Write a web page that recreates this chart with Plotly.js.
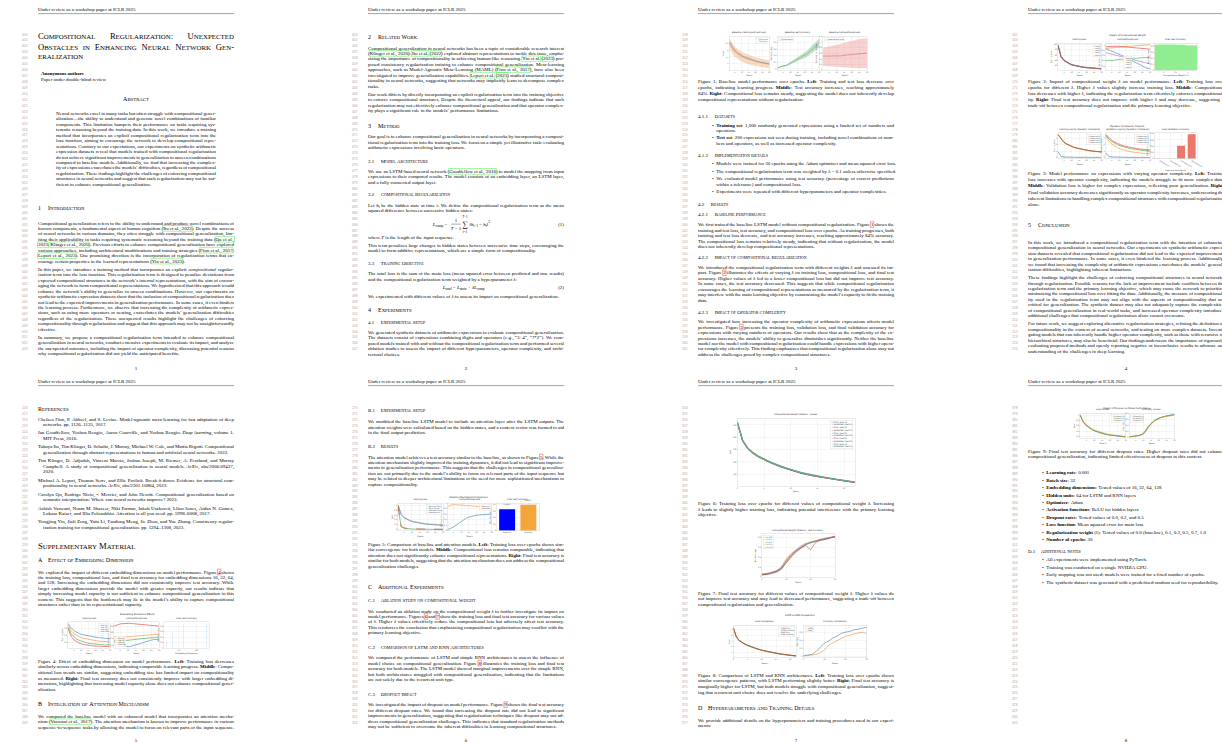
<!DOCTYPE html>
<html><head><meta charset="utf-8">
<script src="https://cdn.plot.ly/plotly-3.0.1.min.js"></script>
<style>html,body{margin:0;padding:0;background:#fff;overflow:hidden}#chart{width:1222px;height:742px}</style>
</head><body><div id="chart"></div>
<script>
// ================= CHART DATA =================
const EPOCHS = [1,3,5,7,9,11,13,15,17,19,21,23,25,27,30];
const EPOCHS_F6 = [0,1,2,3,4,5,6,8,10,12,14,16,18,20,22];
const EPOCHS_F7 = [0,2,4,6,8,10,12,14,16,18,20,22,24,26,28,30];

// Figure 1 (baseline)
const f1TrainLoss = [2.62,2.25,1.98,1.80,1.66,1.55,1.46,1.38,1.31,1.25,1.19,1.14,1.09,1.05,0.99];
const f1TestLoss = [2.55,2.15,1.88,1.70,1.57,1.47,1.39,1.31,1.25,1.19,1.14,1.09,1.05,1.01,0.96];
const f1TestLossLo = [2.25,1.80,1.52,1.35,1.22,1.12,1.04,0.97,0.91,0.86,0.82,0.78,0.74,0.71,0.67];
const f1TestLossHi = [2.85,2.50,2.24,2.05,1.92,1.82,1.74,1.65,1.59,1.52,1.46,1.40,1.36,1.31,1.25];
const f1Acc = [0.03,0.07,0.09,0.10,0.15,0.20,0.24,0.28,0.33,0.38,0.45,0.52,0.60,0.68,0.80];
const f1AccLo = [0.02,0.05,0.07,0.08,0.12,0.16,0.19,0.22,0.26,0.30,0.36,0.42,0.49,0.56,0.66];
const f1AccHi = [0.04,0.09,0.11,0.13,0.18,0.24,0.29,0.34,0.40,0.46,0.54,0.62,0.71,0.80,0.93];
const f1Comp = [0.50,0.50,0.50,0.50,0.50,0.51,0.51,0.53,0.54,0.55,0.57,0.58,0.59,0.60,0.61];
const f1CompLo = [0.15,0.14,0.13,0.12,0.11,0.10,0.09,0.08,0.08,0.07,0.07,0.06,0.06,0.06,0.06];
const f1CompHi = [0.80,0.82,0.84,0.86,0.88,0.92,0.95,0.98,1.02,1.05,1.08,1.10,1.12,1.13,1.14];

// Figure 2 (compositional weight)
const f2Lambdas = ['0.0','0.1','0.3','0.5','1.0'];
const f2LossL00 = [95,52,38,30,25,21,18,16,14,12.5,11.2,10,9,8.2,7.4];
const f2LossL01 = [96,53,39,31,25.5,21.5,18.5,16.3,14.3,12.8,11.5,10.3,9.3,8.4,7.6];
const f2LossL03 = [97,54,40,31.5,26,22,19,16.7,14.7,13.1,11.8,10.6,9.6,8.7,7.9];
const f2LossL05 = [98,55,40.5,32,26.5,22.5,19.4,17,15,13.4,12.1,10.9,9.9,9,8.2];
const f2LossL10 = [99,56,41,32.5,27,23,19.8,17.4,15.4,13.8,12.4,11.2,10.2,9.3,8.5];
const f2CompL00 = [0.86,0.82,0.78,0.73,0.67,0.62,0.57,0.50,0.45,0.38,0.33,0.26,0.21,0.14,0.09];
const f2CompL01 = [0.87,0.88,0.90,0.90,0.92,0.92,0.93,0.95,0.95,0.96,0.97,0.98,0.99,1.00,1.01];
const f2CompL03 = [0.40,0.42,0.41,0.43,0.44,0.46,0.45,0.47,0.48,0.50,0.49,0.51,0.52,0.52,0.53];
const f2CompL05 = [0.93,0.94,0.94,0.95,0.95,0.94,0.93,0.92,0.92,0.90,0.89,0.88,0.87,0.85,0.84];
const f2CompL10 = [0.71,0.68,0.64,0.62,0.58,0.55,0.53,0.49,0.46,0.44,0.40,0.37,0.35,0.31,0.28];
const f2Acc = [0.84,0.84,0.79,0.84,0.81];

// Figure 3 (operator complexity)
const f3Levels = ['Complexity 1','Complexity 2','Complexity 3','Complexity 4'];
const f3TrainC1 = [0.90,0.15,0.08,0.05,0.04,0.03,0.03,0.02,0.02,0.02,0.02,0.01,0.01,0.01,0.01];
const f3TrainC2 = [3.50,2.80,2.30,2.00,1.78,1.60,1.46,1.34,1.24,1.15,1.07,1.00,0.94,0.89,0.84];
const f3TrainC3 = [3.55,2.85,2.35,2.05,1.80,1.62,1.48,1.36,1.25,1.16,1.08,1.01,0.95,0.90,0.85];
const f3TrainC4 = [3.60,2.90,2.40,2.10,1.85,1.65,1.50,1.38,1.27,1.18,1.10,1.03,0.97,0.92,0.87];
const f3ValC1 = [0.80,0.20,0.10,0.07,0.05,0.04,0.04,0.03,0.03,0.03,0.02,0.02,0.02,0.02,0.02];
const f3ValC2 = [3.40,2.60,2.10,1.75,1.50,1.30,1.15,1.02,0.92,0.83,0.76,0.70,0.65,0.61,0.57];
const f3ValC3 = [3.50,2.90,2.50,2.20,1.96,1.78,1.63,1.50,1.40,1.31,1.23,1.16,1.10,1.05,1.00];
const f3ValC4 = [3.60,3.10,2.70,2.40,2.15,1.95,1.80,1.68,1.57,1.48,1.40,1.33,1.27,1.22,1.17];
const f3Acc = [0.0005,0.001,0.041,0.078];

// Figure 4 (embedding dimension)
const f4Dims = ['16','32','64','128'];
const f4LossD16 = [0.95,0.82,0.74,0.69,0.65,0.62,0.60,0.58,0.56,0.55,0.54,0.53,0.52,0.51,0.50];
const f4LossD32 = [0.90,0.74,0.65,0.59,0.55,0.52,0.50,0.48,0.46,0.45,0.44,0.43,0.42,0.41,0.41];
const f4LossD64 = [0.85,0.66,0.56,0.49,0.45,0.42,0.39,0.37,0.36,0.35,0.34,0.33,0.33,0.32,0.32];
const f4LossD128 = [0.80,0.58,0.47,0.41,0.37,0.34,0.32,0.31,0.30,0.29,0.29,0.28,0.28,0.28,0.27];
const f4CompD16 = [0.30,0.26,0.22,0.18,0.15,0.14,0.17,0.21,0.25,0.28,0.31,0.33,0.35,0.37,0.38];
const f4CompD32 = [0.45,0.44,0.44,0.45,0.46,0.47,0.48,0.49,0.50,0.51,0.52,0.52,0.53,0.53,0.54];
const f4CompD64 = [0.35,0.33,0.32,0.33,0.34,0.36,0.38,0.39,0.40,0.41,0.42,0.43,0.43,0.44,0.44];
const f4CompD128 = [0.80,0.84,0.87,0.88,0.89,0.89,0.88,0.87,0.86,0.85,0.84,0.83,0.82,0.81,0.80];
const f4Acc = [0.19,0.55,0.86,0.90];

// Figure 5 (attention)
const f5Models = ['Baseline','Attention'];
const f5BaseTrain = [1.00,0.62,0.48,0.40,0.35,0.31,0.28,0.26,0.24,0.22,0.21,0.20,0.19,0.18,0.17];
const f5BaseVal = [1.02,0.64,0.50,0.42,0.37,0.33,0.30,0.28,0.26,0.24,0.23,0.22,0.21,0.20,0.19];
const f5AttnTrain = [0.95,0.12,0.05,0.03,0.02,0.02,0.02,0.01,0.01,0.01,0.01,0.01,0.01,0.01,0.01];
const f5AttnVal = [0.97,0.15,0.07,0.04,0.03,0.03,0.02,0.02,0.02,0.02,0.02,0.02,0.01,0.01,0.01];
const f5BaseComp = [0.86,0.93,0.95,0.95,0.94,0.93,0.92,0.91,0.90,0.89,0.88,0.88,0.87,0.86,0.85];
const f5AttnComp = [0.04,0.07,0.13,0.21,0.30,0.38,0.44,0.49,0.53,0.55,0.57,0.58,0.58,0.59,0.60];
const f5Acc = [0.66,0.80];

// Figure 6 (ablation losses)
const f6TrainL00 = [518,366,302,265,238,216,196,160,130,106,87,71,57,45,32];
const f6ValL00 = [522,372,307,270,242,219,199,163,133,109,89,73,59,47,34];
const f6TrainL01 = [519,368,304,266,239,217,197,161,131,107,88,72,58,46,33];
const f6ValL01 = [523,374,309,271,243,221,200,165,134,110,90,74,60,48,35];
const f6TrainL03 = [520,369,305,268,241,219,198,162,133,108,89,73,58,46,34];
const f6ValL03 = [524,375,310,273,245,222,202,166,136,111,91,75,61,49,36];
const f6TrainL05 = [521,371,306,269,242,220,200,164,134,110,90,74,60,47,35];
const f6ValL05 = [525,377,312,274,246,224,203,168,137,113,94,76,62,50,37];
const f6TrainL10 = [522,373,308,271,244,222,202,166,136,112,92,75,61,49,36];
const f6ValL10 = [526,379,314,276,248,226,205,170,139,115,95,78,63,51,38];

// Figure 7 (ablation test accuracy)
const f7L00 = [0.04,0.05,0.08,0.10,0.17,0.33,0.45,0.54,0.60,0.66,0.71,0.73,0.76,0.78,0.80,0.82];
const f7L01 = [0.05,0.06,0.07,0.12,0.20,0.36,0.47,0.55,0.63,0.68,0.70,0.74,0.75,0.79,0.81,0.83];
const f7L03 = [0.03,0.05,0.09,0.11,0.16,0.30,0.42,0.52,0.59,0.65,0.69,0.72,0.77,0.77,0.80,0.81];
const f7L05 = [0.04,0.04,0.06,0.09,0.15,0.28,0.40,0.50,0.58,0.64,0.55,0.70,0.74,0.76,0.79,0.82];
const f7L10 = [0.05,0.06,0.08,0.12,0.18,0.31,0.43,0.53,0.61,0.67,0.70,0.73,0.75,0.77,0.80,0.82];

// Figure 8 (LSTM vs RNN)
const f8LstmTrain = [5.2,3.70,3.02,2.66,2.40,2.18,1.98,1.63,1.33,1.09,0.89,0.73,0.59,0.47,0.35];
const f8LstmVal = [5.3,3.78,3.08,2.71,2.44,2.22,2.02,1.66,1.36,1.12,0.92,0.75,0.61,0.49,0.37];
const f8RnnTrain = [5.25,3.75,3.06,2.69,2.43,2.21,2.01,1.66,1.36,1.12,0.92,0.76,0.62,0.50,0.38];
const f8RnnVal = [5.35,3.83,3.12,2.75,2.48,2.26,2.05,1.70,1.39,1.15,0.95,0.78,0.64,0.52,0.40];
const f8LstmAcc = [0.02,0.03,0.05,0.12,0.22,0.33,0.38,0.46,0.50,0.57,0.60,0.62,0.66,0.67,0.70,0.72];
const f8RnnAcc = [0.01,0.02,0.03,0.05,0.09,0.16,0.28,0.33,0.40,0.45,0.50,0.52,0.56,0.58,0.60,0.57];

// Figure 9 (dropout)
const f9LossD0 = [1.00,0.74,0.60,0.51,0.44,0.39,0.35,0.31,0.28,0.26,0.24,0.22,0.21,0.20,0.18];
const f9LossD2 = [1.01,0.76,0.62,0.52,0.45,0.40,0.36,0.32,0.29,0.27,0.25,0.23,0.22,0.21,0.19];
const f9LossD5 = [1.02,0.78,0.64,0.54,0.47,0.42,0.38,0.34,0.31,0.28,0.26,0.24,0.23,0.22,0.20];
const f9AccD0 = [0.02,0.03,0.04,0.06,0.09,0.17,0.33,0.46,0.55,0.61,0.66,0.69,0.71,0.73,0.75];
const f9AccD2 = [0.02,0.03,0.05,0.06,0.10,0.19,0.35,0.47,0.56,0.62,0.66,0.70,0.72,0.74,0.76];
const f9AccD5 = [0.01,0.02,0.04,0.05,0.08,0.15,0.30,0.44,0.53,0.60,0.65,0.68,0.70,0.72,0.74];

// ================= TEXT CONTENT =================
const HEADER_TEXT = "Under review as a workshop paper at ICLR 2025";
const TITLE = ["Compositional Regularization: Unexpected","Obstacles in Enhancing Neural Network Gen-","eralization"];
const ABSTRACT = [
"Neural networks excel in many tasks but often struggle with compositional gener-",
"alization—the ability to understand and generate novel combinations of familiar",
"components. This limitation hampers their performance on tasks requiring sys-",
"tematic reasoning beyond the training data. In this work, we introduce a training",
"method that incorporates an explicit compositional regularization term into the",
"loss function, aiming to encourage the network to develop compositional repre-",
"sentations. Contrary to our expectations, our experiments on synthetic arithmetic",
"expression datasets reveal that models trained with compositional regularization",
"do not achieve significant improvements in generalization to unseen combinations",
"compared to baseline models. Additionally, we find that increasing the complex-",
"ity of expressions exacerbates the models’ difficulties, regardless of compositional",
"regularization. These findings highlight the challenges of enforcing compositional",
"structures in neural networks and suggest that such regularization may not be suf-",
"ficient to enhance compositional generalization."];
const INTRO_1 = [
"Compositional generalization refers to the ability to understand and produce novel combinations of",
"known components, a fundamental aspect of human cognition ([[Ito et al., 2022]]). Despite the success",
"of neural networks in various domains, they often struggle with compositional generalization, lim-",
"iting their applicability in tasks requiring systematic reasoning beyond the training data ([[Qu et al.,]]",
"[[2023]]; [[Klinger et al., 2020]]). Previous efforts to enhance compositional generalization have explored",
"various approaches, including architectural modifications and training strategies ([[Finn et al., 2017]];",
"[[Lepori et al., 2023]]). One promising direction is the incorporation of regularization terms that en-",
"courage certain properties in the learned representations ([[Yin et al., 2023]])."];
const INTRO_2 = [
"In this paper, we introduce a training method that incorporates an explicit <i>compositional regular-</i>",
"<i>ization</i> term into the loss function. This regularization term is designed to penalize deviations from",
"expected compositional structures in the network’s internal representations, with the aim of encour-",
"aging the network to form compositional representations. We hypothesized that this approach would",
"enhance the network’s ability to generalize to unseen combinations. However, our experiments on",
"synthetic arithmetic expression datasets show that the inclusion of compositional regularization does",
"not lead to the expected improvements in generalization performance. In some cases, it even hinders",
"the learning process. Furthermore, we observe that increasing the complexity of arithmetic expres-",
"sions, such as using more operators or nesting, exacerbates the models’ generalization difficulties",
"regardless of the regularization. These unexpected results highlight the challenges of enforcing",
"compositionality through regularization and suggest that this approach may not be straightforwardly",
"effective."];
const INTRO_3 = [
"In summary, we propose a compositional regularization term intended to enhance compositional",
"generalization in neural networks, conduct extensive experiments to evaluate its impact, and analyze",
"the unexpected outcomes, including the impact of operator complexity, discussing potential reasons",
"why compositional regularization did not yield the anticipated benefits."];
const RW_1 = [
"Compositional generalization in neural networks has been a topic of considerable research interest",
"([[Klinger et al., 2020]]). [[Ito et al.]] ([[2022]]) explored abstract representations to tackle this issue, empha-",
"sizing the importance of compositionality in achieving human-like reasoning. [[Yin et al.]] ([[2023]]) pro-",
"posed consistency regularization training to enhance compositional generalization. Meta-learning",
"approaches, such as Model-Agnostic Meta-Learning (MAML) ([[Finn et al., 2017]]), have also been",
"investigated to improve generalization capabilities. [[Lepori et al.]] ([[2023]]) studied structural composi-",
"tionality in neural networks, suggesting that networks may implicitly learn to decompose complex",
"tasks."];
const RW_2 = [
"Our work differs by directly incorporating an explicit regularization term into the training objective",
"to enforce compositional structures. Despite the theoretical appeal, our findings indicate that such",
"regularization may not effectively enhance compositional generalization and that operator complex-",
"ity plays a significant role in the models’ performance limitations."];
const METHOD_1 = [
"Our goal is to enhance compositional generalization in neural networks by incorporating a composi-",
"tional regularization term into the training loss. We focus on a simple yet illustrative task: evaluating",
"arithmetic expressions involving basic operators."];
const ARCH_1 = [
"We use an LSTM-based neural network ([[Goodfellow et al., 2016]]) to model the mapping from input",
"expressions to their computed results. The model consists of an embedding layer, an LSTM layer,",
"and a fully connected output layer."];
const CREG_1 = [
"Let <i>h<sub>t</sub></i> be the hidden state at time <i>t</i>. We define the compositional regularization term as the mean",
"squared difference between successive hidden states:"];
const CREG_WHERE = ["where <i>T</i> is the length of the input sequence."];
const CREG_2 = [
"This term penalizes large changes in hidden states between successive time steps, encouraging the",
"model to form additive representations, which are a simple form of compositionality."];
const OBJ_1 = [
"The total loss is the sum of the main loss (mean squared error between predicted and true results)",
"and the compositional regularization term weighted by a hyperparameter <i>λ</i>:"];
const OBJ_2 = ["We experimented with different values of <i>λ</i> to assess its impact on compositional generalization."];
const SETUP_1 = [
"We generated synthetic datasets of arithmetic expressions to evaluate compositional generalization.",
"The datasets consist of expressions combining digits and operators (e.g., “3+4”, “7*2”). We com-",
"pared models trained with and without the compositional regularization term and performed several",
"ablation studies to assess the impact of different hyperparameters, operator complexity, and archi-",
"tectural choices."];
const CAP_1 = [
"Figure 1: Baseline model performance over epochs. <b>Left</b>: Training and test loss decrease over",
"epochs, indicating learning progress. <b>Middle</b>: Test accuracy increases, reaching approximately",
"84%. <b>Right</b>: Compositional loss remains steady, suggesting the model does not inherently develop",
"compositional representations without regularization."];
const DATASET_ITEMS = [
["<b>Training set</b>: 1,000 randomly generated expressions using a limited set of numbers and","operators."],
["<b>Test set</b>: 200 expressions not seen during training, including novel combinations of num-","bers and operators, as well as increased operator complexity."]];
const IMPL_ITEMS = [
["Models were trained for 30 epochs using the Adam optimizer and mean squared error loss."],
["The compositional regularization term was weighted by <i>λ</i> = 0.1 unless otherwise specified."],
["We evaluated model performance using test accuracy (percentage of correct predictions","within a tolerance) and compositional loss."],
["Experiments were repeated with different hyperparameters and operator complexities."]];
const RES_BASE = [
"We first trained the baseline LSTM model without compositional regularization. Figure {{1}} shows the",
"training and test loss, test accuracy, and compositional loss over epochs. As training progresses, both",
"training and test loss decrease, and test accuracy increases, reaching approximately 84% accuracy.",
"The compositional loss remains relatively steady, indicating that without regularization, the model",
"does not inherently develop compositional representations."];
const RES_REG = [
"We introduced the compositional regularization term with different weights <i>λ</i> and assessed its im-",
"pact. Figure {{2}} illustrates the effects of varying <i>λ</i> on training loss, compositional loss, and final test",
"accuracy. Higher values of <i>λ</i> led to a lower compositional loss but did not improve test accuracy.",
"In some cases, the test accuracy decreased. This suggests that while compositional regularization",
"encourages the learning of compositional representations as measured by the regularization term, it",
"may interfere with the main learning objective by constraining the model’s capacity to fit the training",
"data."];
const RES_OP = [
"We investigated how increasing the operator complexity of arithmetic expressions affects model",
"performance. Figure {{3}} presents the training loss, validation loss, and final validation accuracy for",
"expressions with varying numbers of operators. Our results show that as the complexity of the ex-",
"pressions increases, the models’ ability to generalize diminishes significantly. Neither the baseline",
"model nor the model with compositional regularization could handle expressions with higher opera-",
"tor complexity effectively. This finding emphasizes that compositional regularization alone may not",
"address the challenges posed by complex compositional structures."];
const CAP_2 = [
"Figure 2: Impact of compositional weight <i>λ</i> on model performance. <b>Left</b>: Training loss over",
"epochs for different <i>λ</i>. Higher <i>λ</i> values slightly increase training loss. <b>Middle</b>: Compositional",
"loss decreases with higher <i>λ</i>, indicating the regularization term effectively enforces compositional-",
"ity. <b>Right</b>: Final test accuracy does not improve with higher <i>λ</i> and may decrease, suggesting a",
"trade-off between compositional regularization and the primary learning objective."];
const CAP_3 = [
"Figure 3: Model performance on expressions with varying operator complexity. <b>Left</b>: Training",
"loss increases with operator complexity, indicating the models struggle to fit more complex data.",
"<b>Middle</b>: Validation loss is higher for complex expressions, reflecting poor generalization. <b>Right</b>:",
"Final validation accuracy decreases significantly as operator complexity increases, underscoring the",
"inherent limitations in handling complex compositional structures with compositional regularization",
"alone."];
const CONC_1 = [
"In this work, we introduced a compositional regularization term with the intention of enhancing",
"compositional generalization in neural networks. Our experiments on synthetic arithmetic expres-",
"sion datasets revealed that compositional regularization did not lead to the expected improvements",
"in generalization performance. In some cases, it even hindered the learning process. Additionally,",
"we found that increasing the complexity of arithmetic expressions exacerbates the models’ general-",
"ization difficulties, highlighting inherent limitations."];
const CONC_2 = [
"These findings highlight the challenges of enforcing compositional structures in neural networks",
"through regularization. Possible reasons for the lack of improvement include conflicts between the",
"regularization term and the primary learning objective, which may cause the network to prioritize",
"minimizing the compositional loss over fitting the data. Additionally, the measure of compositional-",
"ity used in the regularization term may not align with the aspects of compositionality that are",
"critical for generalization. The synthetic dataset may also not adequately capture the complexities",
"of compositional generalization in real-world tasks, and increased operator complexity introduces",
"additional challenges that compositional regularization alone cannot overcome."];
const CONC_3 = [
"For future work, we suggest exploring alternative regularization strategies, refining the definition of",
"compositionality in the context of neural networks, and testing on more complex datasets. Investi-",
"gating models that can inherently handle higher operator complexity, such as those with recursive or",
"hierarchical structures, may also be beneficial. Our findings underscore the importance of rigorously",
"evaluating proposed methods and openly reporting negative or inconclusive results to advance our",
"understanding of the challenges in deep learning."];
const REFS = [
["Chelsea Finn, P. Abbeel, and S. Levine. Model-agnostic meta-learning for fast adaptation of deep","networks. pp. 1126–1135, 2017."],
["Ian Goodfellow, Yoshua Bengio, Aaron Courville, and Yoshua Bengio. <i>Deep learning</i>, volume 1.","MIT Press, 2016."],
["Takuya Ito, Tim Klinger, D. Schultz, J. Murray, Michael W. Cole, and Mattia Rigotti. Compositional","generalization through abstract representations in human and artificial neural networks. 2022."],
["Tim Klinger, D. Adjodah, Vincent Marois, Joshua Joseph, M. Riemer, A. Pentland, and Murray","Campbell. A study of compositional generalization in neural models. <i>ArXiv</i>, abs/2006.09437,","2020."],
["Michael A. Lepori, Thomas Serre, and Ellie Pavlick. Break it down: Evidence for structural com-","positionality in neural networks. <i>ArXiv</i>, abs/2301.10884, 2023."],
["Carolyn Qu, Rodrigo Nieto, •. Mercier, and John Hewitt. Compositional generalization based on","semantic interpretation: Where can neural networks improve? 2023."],
["Ashish Vaswani, Noam M. Shazeer, Niki Parmar, Jakob Uszkoreit, Llion Jones, Aidan N. Gomez,","Lukasz Kaiser, and Illia Polosukhin. Attention is all you need. pp. 5998–6008, 2017."],
["Yongjing Yin, Jiali Zeng, Yafu Li, Fandong Meng, Jie Zhou, and Yue Zhang. Consistency regular-","ization training for compositional generalization. pp. 1294–1308, 2023."]];
const SUPP_A = [
"We explored the impact of different embedding dimensions on model performance. Figure {{4}} shows",
"the training loss, compositional loss, and final test accuracy for embedding dimensions 16, 32, 64,",
"and 128. Increasing the embedding dimension did not consistently improve test accuracy. While",
"larger embedding dimensions provide the model with greater capacity, our results indicate that",
"simply increasing model capacity is not sufficient to enhance compositional generalization in this",
"context. This suggests that the bottleneck may lie in the model’s ability to capture compositional",
"structures rather than in its representational capacity."];
const CAP_4 = [
"Figure 4: Effect of embedding dimension on model performance. <b>Left</b>: Training loss decreases",
"similarly across embedding dimensions, indicating comparable learning progress. <b>Middle</b>: Compo-",
"sitional loss trends are similar, suggesting embedding size has limited impact on compositionality",
"as measured. <b>Right</b>: Final test accuracy does not consistently improve with larger embedding di-",
"mensions, highlighting that increasing model capacity alone does not enhance compositional gener-",
"alization."];
const SUPP_B = [
"We compared the baseline model with an enhanced model that incorporates an attention mecha-",
"nism ([[Vaswani et al., 2017]]). The attention mechanism is known to improve performance in various",
"sequence-to-sequence tasks by allowing the model to focus on relevant parts of the input sequence."];
const SUPP_B1 = [
"We modified the baseline LSTM model to include an attention layer after the LSTM outputs. The",
"attention weights were calculated based on the hidden states, and a context vector was formed to aid",
"in the final output prediction."];
const SUPP_B2 = [
"The attention model achieves a test accuracy similar to the baseline, as shown in Figure {{5}}. While the",
"attention mechanism slightly improved the training dynamics, it did not lead to significant improve-",
"ments in generalization performance. This suggests that the challenges in compositional generaliza-",
"tion are not primarily due to the model’s ability to focus on relevant parts of the input sequence but",
"may be related to deeper architectural limitations or the need for more sophisticated mechanisms to",
"capture compositionality."];
const CAP_5 = [
"Figure 5: Comparison of baseline and attention models. <b>Left</b>: Training loss over epochs shows sim-",
"ilar convergence for both models. <b>Middle</b>: Compositional loss remains comparable, indicating that",
"attention does not significantly enhance compositional representations. <b>Right</b>: Final test accuracy is",
"similar for both models, suggesting that the attention mechanism does not address the compositional",
"generalization challenges."];
const SUPP_C1 = [
"We conducted an ablation study on the compositional weight <i>λ</i> to further investigate its impact on",
"model performance. Figures {{6}} and {{7}} show the training loss and final test accuracy for various values",
"of <i>λ</i>. Higher <i>λ</i> values effectively reduce the compositional loss but adversely affect test accuracy.",
"This reinforces the conclusion that emphasizing compositional regularization may conflict with the",
"primary learning objective."];
const SUPP_C2 = [
"We compared the performance of LSTM and simple RNN architectures to assess the influence of",
"model choice on compositional generalization. Figure {{8}} illustrates the training loss and final test",
"accuracy for both models. The LSTM model showed marginal improvements over the simple RNN,",
"but both architectures struggled with compositional generalization, indicating that the limitations",
"are not solely due to the recurrent unit type."];
const SUPP_C3 = [
"We investigated the impact of dropout on model performance. Figure {{9}} shows the final test accuracy",
"for different dropout rates. We found that increasing the dropout rate did not lead to significant",
"improvements in generalization, suggesting that regularization techniques like dropout may not ad-",
"dress compositional generalization challenges. This indicates that standard regularization methods",
"may not be sufficient to overcome the inherent difficulties in learning compositional structures."];
const CAP_6 = [
"Figure 6: Training loss over epochs for different values of compositional weight <i>λ</i>. Increasing",
"<i>λ</i> leads to slightly higher training loss, indicating potential interference with the primary learning",
"objective."];
const CAP_7 = [
"Figure 7: Final test accuracy for different values of compositional weight <i>λ</i>. Higher <i>λ</i> values do",
"not improve test accuracy and may lead to decreased performance, suggesting a trade-off between",
"compositional regularization and generalization."];
const CAP_8 = [
"Figure 8: Comparison of LSTM and RNN architectures. <b>Left</b>: Training loss over epochs shows",
"similar convergence patterns, with LSTM performing slightly better. <b>Right</b>: Final test accuracy is",
"marginally higher for LSTM, but both models struggle with compositional generalization, suggest-",
"ing that recurrent unit choice does not resolve the underlying challenges."];
const SUPP_D = [
"We provide additional details on the hyperparameters and training procedures used in our experi-",
"ments:"];
const CAP_9 = [
"Figure 9: Final test accuracy for different dropout rates. Higher dropout rates did not enhance",
"compositional generalization, indicating limited effectiveness of dropout in this context."];
const HYPER_ITEMS = [
["<b>Learning rate</b>: 0.001"],["<b>Batch size</b>: 32"],
["<b>Embedding dimensions</b>: Tested values of 16, 32, 64, 128"],
["<b>Hidden units</b>: 64 for LSTM and RNN layers"],["<b>Optimizer</b>: Adam"],
["<b>Activation functions</b>: ReLU for hidden layers"],
["<b>Dropout rates</b>: Tested values of 0.0, 0.2, and 0.5"],
["<b>Loss function</b>: Mean squared error for main loss"],
["<b>Regularization weight</b> (<i>λ</i>): Tested values of 0.0 (baseline), 0.1, 0.3, 0.5, 0.7, 1.0"],
["<b>Number of epochs</b>: 30"]];
const NOTE_ITEMS = [
["All experiments were implemented using PyTorch."],
["Training was conducted on a single NVIDIA GPU."],
["Early stopping was not used; models were trained for a fixed number of epochs."],
["The synthetic dataset was generated with a predefined random seed for reproducibility."]];

// ================= ENGINE =================
const W=1222,H=742;
const SERIF='"Liberation Serif", "Times New Roman", serif';
const SANS='"DejaVu Sans", "Liberation Sans", sans-serif';
const FS=4.97, LS=5.45, PGAP=8.15, TW=196, CAP_TOP=6.1, CAP_BOT=5.55;
const pageLeft=p=>38+330*(p%4);
const pageRow=p=>Math.floor(p/4);
const cvs=document.createElement('canvas'); const ctx=cvs.getContext('2d');
function mw(s,sz,b,it){ctx.font=(it?'italic ':'')+(b?'bold ':'')+sz+'px "Liberation Serif"';return ctx.measureText(s).width;}
const TX=[],TY=[],TT=[],TS=[], CX=[],CY=[],CT=[],CS=[], RX=[],RY=[],RT=[],RS=[], NX=[],NY=[],NT=[];
const shapes=[],annotations=[],traces=[];
function pushT(x,y,t,s){TX.push(x);TY.push(y);TT.push(t);TS.push(s);}
function pushC(x,y,t,s){CX.push(x);CY.push(y);CT.push(t);CS.push(s);}
function pushR(x,y,t,s){RX.push(x);RY.push(y);RT.push(t);RS.push(s);}

function parseLine(s){
  const out=[];let b=0,it=0,sub=0,sup=0,cite=0,cid=0,k=0;
  const tags=[['<b>',()=>b=1],['</b>',()=>b=0],['<i>',()=>it=1],['</i>',()=>it=0],['<sub>',()=>sub=1],['</sub>',()=>sub=0],['<sup>',()=>sup=1],['</sup>',()=>sup=0],['[[',()=>{cid++;cite={id:cid,c:'g'};}],[']]',()=>cite=0],['{{',()=>{cid++;cite={id:cid,c:'r'};}],['}}',()=>cite=0]];
  while(k<s.length){
    let hit=false;
    for(const [tg,fn] of tags){ if(s.startsWith(tg,k)){fn();k+=tg.length;hit=true;break;} }
    if(hit) continue;
    out.push({ch:s[k],b,it,sub,sup,cite});k++;
  }
  return out;
}
function placeLine(line,x,y,sz,tw){
  const chars=parseLine(line);
  const words=[];let cur=[];
  for(const c of chars){ if(c.ch===' '){ if(cur.length){words.push(cur);cur=[];} } else cur.push(c); }
  if(cur.length) words.push(cur);
  const built=words.map(w=>{
    const runs=[];
    for(const c of w){const key=c.b+'|'+c.it+'|'+c.sub+'|'+c.sup+'|'+(c.cite?c.cite.id:0);const last=runs[runs.length-1];
      if(last&&last.key===key) last.s+=c.ch; else runs.push({key,s:c.ch,b:c.b,it:c.it,sub:c.sub,sup:c.sup,cite:c.cite});}
    let html='',width=0;const segs=[];
    for(const r of runs){let h=r.s; if(r.sub)h='<sub>'+h+'</sub>'; if(r.sup)h='<sup>'+h+'</sup>'; if(r.it)h='<i>'+h+'</i>'; if(r.b)h='<b>'+h+'</b>'; html+=h;
      const w=mw(r.s,sz*((r.sub||r.sup)?0.7:1),r.b,r.it); if(r.cite) segs.push({cite:r.cite,x0:width,x1:width+w}); width+=w;}
    return {html,width,segs};
  });
  const sp=mw(' ',sz,0,0); const sum=built.reduce((a,b)=>a+b.width,0);
  let gap=sp;
  if(tw&&built.length>1){gap=(tw-sum)/(built.length-1); gap=Math.max(sp*0.6,Math.min(gap,sp*3));}
  let cx=x;const boxes={};
  built.forEach(b=>{pushT(cx,y,b.html,sz);
    b.segs.forEach(s=>{const id=s.cite.id; if(!boxes[id]) boxes[id]={c:s.cite.c,x0:cx+s.x0,x1:cx+s.x1}; else boxes[id].x1=cx+s.x1;});
    cx+=b.width+gap;});
  Object.values(boxes).forEach(bx=>shapes.push({type:'rect',xref:'x',yref:'y',x0:bx.x0-0.5,x1:bx.x1+0.5,y0:y-3.2,y1:y+2.5,
    line:{color:bx.c==='g'?'rgba(40,230,40,0.75)':'rgba(255,40,40,0.85)',width:0.55},fillcolor:'rgba(0,0,0,0)'}));
}
function scWord(w,big,small){
  let html='',width=0,i=0;
  const isLow=ch=>ch!==ch.toUpperCase();
  while(i<w.length){
    let s='';
    if(isLow(w[i])){ while(i<w.length&&isLow(w[i])){s+=w[i];i++;} const S=s.toUpperCase(); html+='<span style="font-size:'+small+'px">'+S+'</span>'; width+=mw(S,small,0,0); }
    else { while(i<w.length&&!isLow(w[i])){s+=w[i];i++;} html+=s; width+=mw(s,big,0,0); }
  }
  return {html,width};
}
function placeSC(text,x,y,big,small,tw,center){
  const ws=text.split(' ').map(w=>scWord(w,big,small));
  const sp=mw(' ',big,0,0); const sum=ws.reduce((a,b)=>a+b.width,0);
  let gap=sp; if(tw&&ws.length>1) gap=Math.max(sp*0.6,(tw-sum)/(ws.length-1));
  let cx=x; if(center) cx=x-(sum+gap*(ws.length-1))/2;
  ws.forEach(w=>{pushT(cx,y,w.html,big);cx+=w.width+gap;});
}
let FY=0;
function para(p,y,lines,opt){opt=opt||{};const L=pageLeft(p)+(opt.dx||0),w=opt.w||TW,ls=opt.ls||LS;
  if(y==null) y=FY+PGAP;
  lines.forEach((ln,i)=>placeLine(ln,L,y+i*ls,FS,(i<lines.length-1)?w:null));
  FY=y+(lines.length-1)*ls;}
function heading(p,y,num,title,lvl){const L=pageLeft(p);const big=lvl===1?5.97:4.97,small=lvl===1?4.78:3.98;
  const off=lvl===1?10:(lvl===2?12.7:16.7);
  if(num) pushT(L,y,num,big);
  placeSC(title,L+(num?off:0),y,big,small);}
function bullets(p,y,items){const L=pageLeft(p);
  items.forEach(it=>{pushT(L+14,y,'•',FS); it.forEach((ln,i)=>placeLine(ln,L+18.3,y+i*LS,FS,i<it.length-1?TW-18.3:null)); y+=(it.length-1)*LS+7.45;});}
function refs(p,y,items){const L=pageLeft(p);
  items.forEach(it=>{it.forEach((ln,i)=>placeLine(ln,i?L+5:L,y+i*5.6,FS,i<it.length-1?(i?TW-5:TW):null)); y+=(it.length-1)*5.6+8.3;});}
function pageFrame(p){const L=pageLeft(p),r=pageRow(p);
  pushT(L,10+372*r,HEADER_TEXT,FS);
  shapes.push({type:'line',xref:'x',yref:'y',x0:L,x1:L+TW,y0:13.6+372*r,y1:13.6+372*r,line:{color:'#333',width:0.45}});
  pushC(L+98,368.7+372*r,String(p+1),FS);
  for(let k=0;k<54;k++){NX.push(L-10.5);NY.push(34.7+373.8*r+k*5.94);NT.push(String(p*54+k).padStart(3,'0'));}}

// ---------- figure helpers ----------
const layout={width:W,height:H,margin:{l:0,r:0,t:0,b:0,pad:0},paper_bgcolor:'#ffffff',plot_bgcolor:'#ffffff',showlegend:false,hovermode:false,
  font:{family:SERIF,color:'#000'},
  xaxis:{range:[0,W],visible:false,fixedrange:true,domain:[0,1]},
  yaxis:{range:[H,0],visible:false,fixedrange:true,domain:[0,1]},
  shapes:shapes,annotations:annotations};
let axN=1;
function axes(x0,x1,y0,y1,xo,yo){axN++;const n=axN;
  const base={showgrid:true,gridcolor:'#e4e4e4',gridwidth:0.35,zeroline:false,showline:true,mirror:true,linecolor:'#c4c4c4',linewidth:0.35,ticks:'',
    tickfont:{size:1.9,color:'#555',family:SANS},fixedrange:true,nticks:6,automargin:false};
  layout['xaxis'+n]=Object.assign({},base,{domain:[x0/W,x1/W],anchor:'y'+n},xo||{});
  layout['yaxis'+n]=Object.assign({},base,{domain:[1-y1/H,1-y0/H],anchor:'x'+n},yo||{});
  return n;}
const axT=t=>({title:{text:t,font:{size:2,family:SANS,color:'#333'},standoff:1}});
function ln(n,x,y,color,w,dash){traces.push({type:'scatter',mode:'lines',x:x,y:y,xaxis:'x'+n,yaxis:'y'+n,line:{color:color,width:w||0.55,dash:dash||'solid'},hoverinfo:'skip'});}
function band(n,x,lo,hi,fill){traces.push({type:'scatter',mode:'lines',x:x,y:lo,xaxis:'x'+n,yaxis:'y'+n,line:{width:0},hoverinfo:'skip'});
  traces.push({type:'scatter',mode:'lines',x:x,y:hi,xaxis:'x'+n,yaxis:'y'+n,line:{width:0},fill:'tonexty',fillcolor:fill,hoverinfo:'skip'});}
function bars(n,x,y,color,text){const t={type:'bar',x:x,y:y,xaxis:'x'+n,yaxis:'y'+n,marker:{color:color,line:{width:0}},width:0.75,hoverinfo:'skip',cliponaxis:false};
  if(text){t.text=text;t.textposition='outside';t.textfont={size:1.8,family:SANS,color:'#333'};} traces.push(t);}
function subT(n,t){annotations.push({xref:'x'+n+' domain',yref:'y'+n+' domain',x:0.5,y:1,yanchor:'bottom',yshift:0.3,showarrow:false,text:t,font:{size:2.2,family:SANS,color:'#222'}});}
function supT(x,y,t){annotations.push({xref:'x',yref:'y',x:x,y:y,showarrow:false,text:t,font:{size:2.3,family:SANS,color:'#222'}});}
function leg(n,items,pos,fs){const txt=items.map(it=>'<span style="color:'+it[0]+'">━</span> '+it[1]).join('<br>');
  const P={tr:[0.98,0.98,'right','top'],tl:[0.02,0.98,'left','top'],bc:[0.5,0.04,'center','bottom'],bl:[0.03,0.04,'left','bottom']}[pos];
  annotations.push({xref:'x'+n+' domain',yref:'y'+n+' domain',x:P[0],y:P[1],xanchor:P[2],yanchor:P[3],showarrow:false,align:'left',text:txt,
    font:{size:fs||1.7,family:SANS,color:'#333'},bgcolor:'rgba(255,255,255,0.85)',bordercolor:'#d0d0d0',borderwidth:0.3,borderpad:0.4});}
const C10=['#1f77b4','#ff7f0e','#2ca02c','#d62728','#9467bd','#8c564b','#e377c2','#7f7f7f','#bcbd22','#17becf'];

// ================= PAGES =================
for(let p=0;p<8;p++) pageFrame(p);

// ---- Page 1 ----
{const L=pageLeft(0);
 TITLE.forEach((t,i)=>placeSC(t,L,[37.3,47.7,57.3][i],8.6,6.9,i<2?TW:null));
 placeLine('<b>Anonymous authors</b>',L+3,73.7,FS,null);
 placeLine('Paper under double-blind review',L+3,79.3,FS,null);
 placeSC('Abstract',L+98,99.3,5.97,4.78,null,true);
 para(0,113.7,ABSTRACT,{dx:18,w:160});
 heading(0,209,'1','Introduction',1);
 para(0,223.3,INTRO_1); para(0,null,INTRO_2); para(0,null,INTRO_3);}

// ---- Page 2 ----
heading(1,37.3,'2','Related Work',1);
para(1,48.3,RW_1); para(1,null,RW_2);
heading(1,126.7,'3','Method',1);
para(1,137,METHOD_1);
heading(1,161.7,'3.1','Model Architecture',2);
para(1,171.7,ARCH_1);
heading(1,195,'3.2','Compositional Regularization',2);
para(1,205.3,CREG_1);
pushT(432.7,224.3,'<i>L</i><sub>comp</sub> =',FS);
pushC(456,220.6,'1',FS); pushC(456,228.4,'<i>T</i> − 1',FS);
shapes.push({type:'line',xref:'x',yref:'y',x0:451.3,x1:460.7,y0:224.1,y1:224.1,line:{color:'#111',width:0.35}});
pushC(465,224.8,'∑',8); pushC(465,217.3,'<i>T</i>−1',3.4); pushC(465,231.7,'<i>t</i>=1',3.4);
pushT(469.5,224.3,'‖<i>h</i><sub><i>t</i>+1</sub> − <i>h</i><sub><i>t</i></sub>‖<sup>2</sup>',FS);
pushR(564,224.3,'(1)',FS);
para(1,237.7,CREG_WHERE);
para(1,245.7,CREG_2);
heading(1,264,'3.3','Training Objective',2);
para(1,274,OBJ_1);
pushT(442.7,288,'<i>L</i><sub>total</sub> = <i>L</i><sub>main</sub> + <i>λL</i><sub>comp</sub>',FS);
pushR(564,288,'(2)',FS);
para(1,296.3,OBJ_2);
heading(1,310.7,'4','Experiments',1);
heading(1,322.7,'4.1','Experimental Setup',2);
para(1,332.7,SETUP_1);

// ---- Page 3 ----
para(2,81.7,CAP_1,{ls:CAP_TOP});
heading(2,116.7,'4.1.1','Datasets',3);
bullets(2,125.3,DATASET_ITEMS);
heading(2,155.3,'4.1.2','Implementation Details',3);
bullets(2,164,IMPL_ITEMS);
heading(2,204.7,'4.2','Results',2);
heading(2,215,'4.2.1','Baseline Performance',3);
para(2,225,RES_BASE);
heading(2,258,'4.2.2','Impact of Compositional Regularization',3);
para(2,267.7,RES_REG);
heading(2,312.3,'4.2.3','Impact of Operator Complexity',3);
para(2,322,RES_OP);

// ---- Page 4 ----
para(3,81.7,CAP_2,{ls:CAP_TOP});
para(3,174,CAP_3,{ls:CAP_TOP});
heading(3,225.5,'5','Conclusion',1);
para(3,242.5,CONC_1); para(3,null,CONC_2); para(3,null,CONC_3);

// ---- Page 5 ----
placeSC('References',pageLeft(4),410,5.97,4.78);
refs(4,419.3,REFS);
placeSC('Supplementary Material',pageLeft(4),547.3,8.6,6.9);
heading(4,560.7,'A','Effect of Embedding Dimension',1);
para(4,572.3,SUPP_A);
para(4,661.7,CAP_4,{ls:CAP_BOT});
heading(4,705,'B','Integration of Attention Mechanism',1);
para(4,716.7,SUPP_B);

// ---- Page 6 ----
heading(5,410.7,'B.1','Experimental Setup',2);
para(5,422,SUPP_B1);
heading(5,446.7,'B.2','Results',2);
para(5,457.3,SUPP_B2);
para(5,544.3,CAP_5,{ls:CAP_BOT});
heading(5,587.3,'C','Additional Experiments',1);
heading(5,600.7,'C.1','Ablation Study on Compositional Weight',2);
para(5,611.3,SUPP_C1);
heading(5,647.3,'C.2','Comparison of LSTM and RNN Architectures',2);
para(5,658,SUPP_C2);
heading(5,694.3,'C.3','Dropout Impact',2);
para(5,705,SUPP_C3);

// ---- Page 7 ----
para(6,504,CAP_6,{ls:CAP_BOT});
para(6,593.3,CAP_7,{ls:CAP_BOT});
para(6,675.7,CAP_8,{ls:CAP_BOT});
heading(6,708.3,'D','Hyperparameters and Training Details',1);
para(6,720.7,SUPP_D);

// ---- Page 8 ----
para(7,451.7,CAP_9,{ls:CAP_BOT});
bullets(7,473,HYPER_ITEMS);
heading(7,551.7,'D.1','Additional Notes',2);
bullets(7,560,NOTE_ITEMS);

// ================= FIGURES =================
// Figure 1
{let n=axes(729.3,769.3,36.7,70,axT('Epoch'),axT('Loss'));
 band(n,EPOCHS,f1TestLossLo,f1TestLossHi,'rgba(240,150,80,0.35)');
 ln(n,EPOCHS,f1TestLoss,'#e8914f'); ln(n,EPOCHS,f1TrainLoss,'#5a7fa8');
 subT(n,'Baseline Training and Test Loss'); leg(n,[['#5a7fa8','Train Loss'],['#e8914f','Test Loss']],'tr');
 n=axes(777.3,819.3,36.7,70,axT('Epoch'),axT('Test Accuracy'));
 band(n,EPOCHS,f1AccLo,f1AccHi,'rgba(85,168,104,0.35)'); ln(n,EPOCHS,f1Acc,'#55a868');
 subT(n,'Baseline Test Accuracy'); leg(n,[['#55a868','Test Accuracy']],'tl');
 n=axes(822.7,867,36.7,70,axT('Epoch'),axT('Compositional Loss'));
 band(n,EPOCHS,f1CompLo,f1CompHi,'rgba(230,90,90,0.28)'); ln(n,EPOCHS,f1Comp,'#d65f5f');
 subT(n,'Baseline Compositional Loss'); leg(n,[['#d65f5f','Compositional Loss']],'tl');}
// Figure 2
{supT(1127,35.3,'Impact of Compositional Weight');
 let n=axes(1058,1101.5,43.3,70.3,axT('Epoch'),axT('Training Loss'));
 [f2LossL00,f2LossL01,f2LossL03,f2LossL05,f2LossL10].forEach((s,i)=>ln(n,EPOCHS,s,C10[i]));
 subT(n,'Training Loss'); leg(n,f2Lambdas.map((l,i)=>[C10[i],'λ='+l]),'tr');
 n=axes(1105.5,1150,43.3,70.3,axT('Epoch'),axT('Compositional Loss'));
 [f2CompL00,f2CompL01,f2CompL03,f2CompL05,f2CompL10].forEach((s,i)=>ln(n,EPOCHS,s,C10[i]));
 subT(n,'Compositional Loss'); leg(n,f2Lambdas.map((l,i)=>[C10[i],'λ='+l]),'bc');
 n=axes(1154.5,1197,43.3,70.3,axT('Compositional Weight (λ)'),axT('Test Accuracy'));
 bars(n,f2Lambdas,f2Acc,'#90ee90'); subT(n,'Final Test Accuracy');}
// Figure 3
{supT(1127,126,'Operator Complexity Analysis');
 let n=axes(1058,1101.5,133,158.7,axT('Epoch'),axT('Training Loss'));
 [f3TrainC1,f3TrainC2,f3TrainC3,f3TrainC4].forEach((s,i)=>ln(n,EPOCHS,s,C10[i]));
 subT(n,'Training Loss by Operator Complexity'); leg(n,f3Levels.map((l,i)=>[C10[i],l]),'tr');
 n=axes(1105.5,1150,133,158.7,axT('Epoch'),axT('Validation Loss'));
 [f3ValC1,f3ValC2,f3ValC3,f3ValC4].forEach((s,i)=>ln(n,EPOCHS,s,C10[i]));
 subT(n,'Validation Loss by Operator Complexity'); leg(n,f3Levels.map((l,i)=>[C10[i],l]),'tr');
 n=axes(1154.5,1197,133,158.7,axT('Operator Complexity'),axT('Validation Accuracy'));
 bars(n,f3Levels,f3Acc,'#e9796b'); subT(n,'Final Validation Accuracy');}
// Figure 4
{supT(137,614.3,'Embedding Dimension Effects');
 let n=axes(68,110,622,648,axT('Epoch'),axT('Training Loss'));
 [f4LossD16,f4LossD32,f4LossD64,f4LossD128].forEach((s,i)=>ln(n,EPOCHS,s,C10[i]));
 subT(n,'Training Loss'); leg(n,f4Dims.map((d,i)=>[C10[i],'Dim '+d]),'tr');
 n=axes(114,159,622,648,axT('Epoch'),axT('Compositional Loss'));
 [f4CompD16,f4CompD32,f4CompD64,f4CompD128].forEach((s,i)=>ln(n,EPOCHS,s,C10[i]));
 subT(n,'Compositional Loss'); leg(n,f4Dims.map((d,i)=>[C10[i],'Dim '+d]),'bl');
 n=axes(164,209,622,648,axT('Embedding Dimension'),axT('Test Accuracy'));
 bars(n,f4Dims,f4Acc,'#8cc6ea'); subT(n,'Final Test Accuracy');}
// Figure 5
{supT(468,497,'Attention Mechanism Comparison');
 let n=axes(398,443,503.3,530.7,axT('Epoch'),axT('Loss'));
 ln(n,EPOCHS,f5BaseTrain,C10[0]); ln(n,EPOCHS,f5BaseVal,'#8c8c8c'); ln(n,EPOCHS,f5AttnTrain,C10[2]); ln(n,EPOCHS,f5AttnVal,C10[3],0.55,'dash');
 subT(n,'Training Loss'); leg(n,[[C10[0],'Baseline Train'],['#8c8c8c','Baseline Val'],[C10[2],'Attention Train'],[C10[3],'Attention Val']],'tr');
 n=axes(447.5,491.7,503.3,530.7,axT('Epoch'),axT('Compositional Loss'));
 ln(n,EPOCHS,f5BaseComp,C10[1]); ln(n,EPOCHS,f5AttnComp,C10[0]);
 subT(n,'Compositional Loss'); leg(n,[[C10[1],'Baseline'],[C10[0],'Attention']],'tr');
 n=axes(496.5,539,503.3,530.7,{},axT('Test Accuracy'));
 bars(n,f5Models,f5Acc,['#0000ff','#f4a53c'],f5Acc.map(v=>v.toFixed(4)));
 subT(n,'Final Test Accuracy');}
// Figure 6
{const n=axes(737.3,855,418.3,486,axT('Epoch'),axT('Loss'));
 const ser=[f6TrainL00,f6ValL00,f6TrainL01,f6ValL01,f6TrainL03,f6ValL03,f6TrainL05,f6ValL05,f6TrainL10,f6ValL10];
 const labs=['Train (λ=0.0)','Validation (λ=0.0)','Train (λ=0.1)','Validation (λ=0.1)','Train (λ=0.3)','Validation (λ=0.3)','Train (λ=0.5)','Validation (λ=0.5)','Train (λ=1.0)','Validation (λ=1.0)'];
 ser.forEach((s,i)=>ln(n,EPOCHS_F6,s,C10[i],0.6));
 subT(n,'Compositional Weight Ablation - Losses'); leg(n,labs.map((l,i)=>[C10[i],l]),'tr',2.1);}
// Figure 7
{const n=axes(761.7,835,534,577.3,axT('Epoch'),axT('Test Accuracy'));
 [f7L00,f7L01,f7L03,f7L05,f7L10].forEach((s,i)=>ln(n,EPOCHS_F7,s,C10[i],0.55));
 subT(n,'Compositional Weight Ablation - Test Accuracy'); leg(n,f2Lambdas.map((l,i)=>[C10[i],'λ='+l]),'tl',1.9);}
// Figure 8
{supT(800,615.7,'LSTM vs RNN Comparison');
 let n=axes(733.3,796,625.7,657.7,axT('Epoch'),axT('Loss'));
 [f8LstmTrain,f8LstmVal,f8RnnTrain,f8RnnVal].forEach((s,i)=>ln(n,EPOCHS_F6,s,C10[i]));
 subT(n,'Loss Comparison'); leg(n,[[C10[0],'LSTM Train'],[C10[1],'LSTM Validation'],[C10[2],'RNN Train'],[C10[3],'RNN Validation']],'tr');
 n=axes(803.3,866.7,625.7,657.7,axT('Epoch'),axT('Accuracy'));
 ln(n,EPOCHS_F7,f8LstmAcc,C10[0]); ln(n,EPOCHS_F7,f8RnnAcc,C10[1]);
 subT(n,'Accuracy Comparison'); leg(n,[[C10[0],'LSTM'],[C10[1],'RNN']],'tl');}
// Figure 9
{supT(1127,408.3,'Impact of Dropout on Model Performance');
 let n=axes(1080,1125.7,413.3,438.3,axT('Epoch'),axT('Loss'));
 ln(n,EPOCHS,f9LossD0,C10[0]); ln(n,EPOCHS,f9LossD2,C10[2]); ln(n,EPOCHS,f9LossD5,C10[1]);
 subT(n,'Loss Curves'); leg(n,[[C10[0],'Dropout 0.0'],[C10[2],'Dropout 0.2'],[C10[1],'Dropout 0.5']],'tr');
 n=axes(1129.3,1174.3,413.3,438.3,axT('Epoch'),axT('Accuracy'));
 ln(n,EPOCHS,f9AccD0,C10[0]); ln(n,EPOCHS,f9AccD2,C10[2]); ln(n,EPOCHS,f9AccD5,C10[1]);
 subT(n,'Accuracy Curves'); leg(n,[[C10[0],'Dropout 0.0'],[C10[2],'Dropout 0.2'],[C10[1],'Dropout 0.5']],'tl');}

// ================= TEXT TRACES =================
traces.push({type:'scatter',mode:'text',x:NX,y:NY,text:NT,textposition:'middle left',textfont:{family:'"Liberation Sans", sans-serif',size:3.3,color:'#a8a8a8'},hoverinfo:'skip',cliponaxis:false});
traces.push({type:'scatter',mode:'text',x:TX,y:TY,text:TT,textposition:'middle right',textfont:{family:SERIF,size:TS,color:'#000'},hoverinfo:'skip',cliponaxis:false});
traces.push({type:'scatter',mode:'text',x:CX,y:CY,text:CT,textposition:'middle center',textfont:{family:SERIF,size:CS,color:'#000'},hoverinfo:'skip',cliponaxis:false});
traces.push({type:'scatter',mode:'text',x:RX,y:RY,text:RT,textposition:'middle left',textfont:{family:SERIF,size:RS,color:'#000'},hoverinfo:'skip',cliponaxis:false});

Plotly.newPlot('chart',traces,layout,{staticPlot:true,displayModeBar:false});
</script></body></html>
